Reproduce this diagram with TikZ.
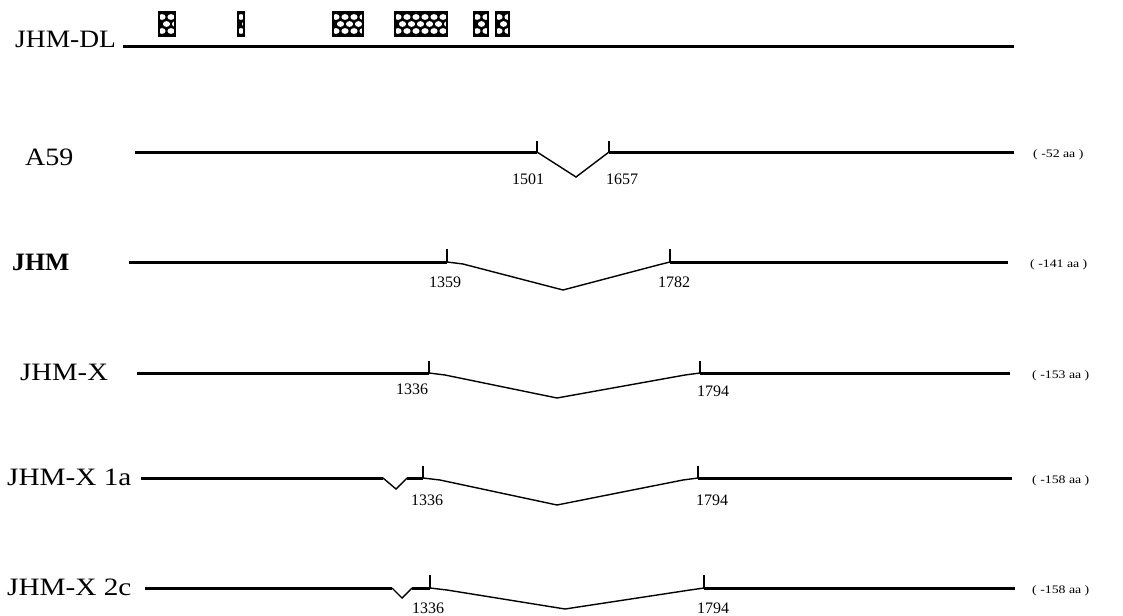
\documentclass[tikz,border=0pt]{standalone}
\usepackage{fontspec}
\setmainfont{Liberation Serif}
\newcommand\dombox[2]{%
  \begin{scope}
    \clip (#1,12) rectangle (#2,36);
    \fill[black] (#1,12) rectangle (#2,36);
    \foreach \r in {0,...,3}{
      \foreach \c in {0,...,6}{
        \pgfmathsetmacro\xx{#1+3+\c*9+mod(\r,2)*4.5}
        \fill[white] (\xx,{17+\r*7}) ellipse (3.6 and 2.9);
      }}
  \end{scope}
  \draw[line width=1.2pt] (#1,12) rectangle (#2,36);
}
\begin{document}
\begin{tikzpicture}[x=1pt,y=-1pt,
  lbl/.style={font=\fontsize{25}{25}\selectfont, anchor=base west, inner sep=0},
  numlbl/.style={font=\fontsize{16}{16}\selectfont, anchor=base, inner sep=0},
  aalbl/.style={font=\fontsize{11.5}{11.5}\selectfont, anchor=west, inner sep=0},
  gene/.style={line width=3pt},
  del/.style={line width=1.4pt, line join=miter},
  tk/.style={line width=1.2pt},
]
\useasboundingbox (0,0) rectangle (1123,615);

% domain boxes
\dombox{159}{175}
\dombox{238}{244}
\dombox{333}{363}
\dombox{395}{447}
\dombox{474}{488}
\dombox{496}{509}

% labels
\node[lbl] (nDL) at (15,48) {\scalebox{1.1}[1]{JHM-DL}};
\node[lbl] (nA) at (25,165) {\scalebox{1.12}[1]{A59}};
\node[lbl] (nJ) at (12,270) {\scalebox{1.03}[1]{\bfseries JHM}};
\node[lbl] (nX) at (20,380) {\scalebox{1.15}[1]{JHM-X}};
\node[lbl] (n1a) at (7,485) {\scalebox{1.17}[1]{JHM-X 1a}};
\node[lbl] (n2c) at (7,595) {\scalebox{1.17}[1]{JHM-X 2c}};

% JHM-DL
\draw[gene] (123,47) -- (1014,47);

% A59
\draw[gene] (135,152) -- (537,152);
\draw[tk] (537,152) -- (537,141);
\draw[del] (537,152) -- (576,177) -- (609,152);
\draw[tk] (609,152) -- (609,141);
\draw[gene] (609,152) -- (1014,152);
\node[numlbl] (a1) at (528,184) {1501};
\node[numlbl] (a2) at (622,184) {1657};
\node[aalbl] (aa1) at (1033,155) {\scalebox{1.2}[1]{( -52 aa )}};

% JHM
\draw[gene] (129,262) -- (447,262);
\draw[tk] (447,262) -- (447,249);
\draw[del] (447,262) -- (463,264) -- (563,290) -- (658,265) -- (670,262);
\draw[tk] (670,262) -- (670,249);
\draw[gene] (670,262) -- (1008,262);
\node[numlbl] (j1) at (445,287) {1359};
\node[numlbl] (j2) at (674,287) {1782};
\node[aalbl] (aa2) at (1030,265) {\scalebox{1.2}[1]{( -141 aa )}};

% JHM-X
\draw[gene] (137,373) -- (429,373);
\draw[tk] (429,373) -- (429,361);
\draw[del] (429,373) -- (445,375) -- (557,398) -- (685,375) -- (700,373);
\draw[tk] (700,373) -- (700,361);
\draw[gene] (700,373) -- (1010,373);
\node[numlbl] (x1) at (412,394) {1336};
\node[numlbl] (x2) at (713,396) {1794};
\node[aalbl] (aa3) at (1032,376) {\scalebox{1.2}[1]{( -153 aa )}};

% JHM-X 1a
\draw[gene] (141,478) -- (383,478);
\draw[del] (383,478) -- (396,489) -- (407,478);
\draw[gene] (407,478) -- (423,478);
\draw[tk] (423,478) -- (423,466);
\draw[del] (423,478) -- (440,480) -- (557,505) -- (683,480) -- (698,478);
\draw[tk] (698,478) -- (698,466);
\draw[gene] (698,478) -- (1012,478);
\node[numlbl] (y1) at (427,505) {1336};
\node[numlbl] (y2) at (712,505) {1794};
\node[aalbl] (aa4) at (1032,481) {\scalebox{1.2}[1]{( -158 aa )}};

% JHM-X 2c
\draw[gene] (145,588) -- (392,588);
\draw[del] (392,588) -- (402,598) -- (412,588);
\draw[gene] (412,588) -- (430,588);
\draw[tk] (430,588) -- (430,575);
\draw[del] (430,588) -- (447,590) -- (565,609) -- (690,590) -- (704,588);
\draw[tk] (704,588) -- (704,575);
\draw[gene] (704,588) -- (1015,588);
\node[numlbl] (z1) at (428,613) {1336};
\node[numlbl] (z2) at (713,613) {1794};
\node[aalbl] (aa5) at (1032,591) {\scalebox{1.2}[1]{( -158 aa )}};
\end{tikzpicture}
\end{document}
